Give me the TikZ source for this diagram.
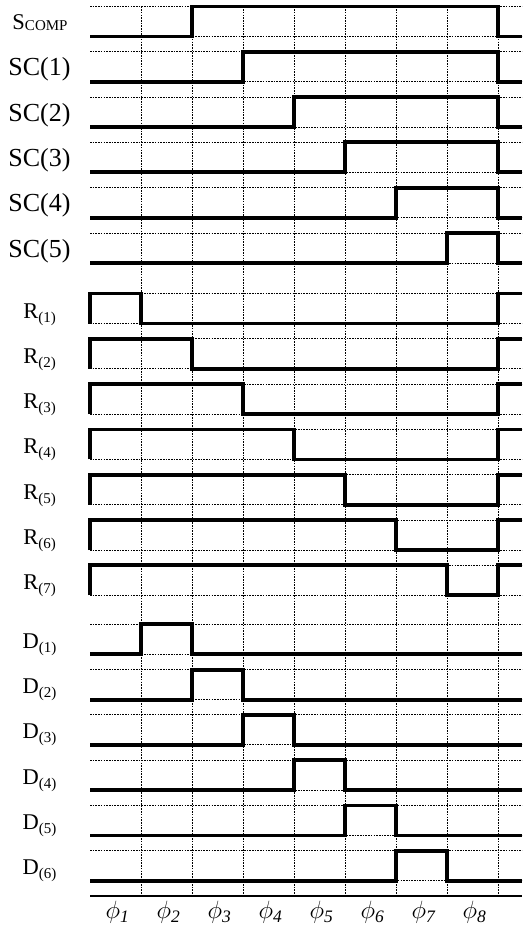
\RequirePackage{fix-cm}
\documentclass[tikz,border=0pt]{standalone}
\usepackage{fontspec}
\setmainfont{Liberation Serif}
\newcommand{\mysub}[3]{#1\raisebox{-#3}{\fontsize{15}{15}\selectfont #2}}
\begin{document}
\begin{tikzpicture}[x=1pt,y=-1pt,
  gridline/.style={line width=0.9pt, dash pattern=on 1.6pt off 1.1pt},
  sig/.style={line width=3.8pt, line cap=butt, line join=miter},
  smalllab/.style={anchor=base, inner sep=0pt, font=\fontsize{22.5}{22.5}\selectfont},
  biglab/.style={anchor=base, inner sep=0pt, font=\fontsize{26}{26}\selectfont},
  philab/.style={anchor=base, inner sep=0pt, font=\fontsize{25}{25}\selectfont}]
\useasboundingbox (0,0) rectangle (522,925);
% horizontal dotted guides
\foreach \i in {0,...,5}{
  \pgfmathsetmacro{\h}{6.5+45.3*\i}
  \draw[gridline] (90,\h) -- (522,\h);
  \draw[gridline] (90,\h+30) -- (522,\h+30);
}
\foreach \i in {0,...,6}{
  \pgfmathsetmacro{\h}{293.5+45.3*\i}
  \draw[gridline] (90,\h) -- (522,\h);
  \draw[gridline] (90,\h+30) -- (522,\h+30);
}
\foreach \i in {0,...,5}{
  \pgfmathsetmacro{\h}{624.3+45.3*\i}
  \draw[gridline] (90,\h) -- (522,\h);
  \draw[gridline] (90,\h+30) -- (522,\h+30);
}
% vertical dotted guides
\foreach \x in {141,192,243,294,345,396,447,498}
  \draw[gridline] (\x,6.5) -- (\x,896);
% axis
\draw[line width=1.4pt] (90,896) -- (522,896);
% group 1: S_COMP and SC(1..5)
\foreach \i in {0,...,5}{
  \pgfmathsetmacro{\h}{6.5+45.3*\i}
  \pgfmathsetmacro{\t}{192+51*\i}
  \draw[sig] (90,\h+30) -- (\t,\h+30) -- (\t,\h) -- (498,\h) -- (498,\h+30) -- (522,\h+30);
}
% group 2: R(1..7)
\foreach \k in {1,...,7}{
  \pgfmathsetmacro{\h}{293.5+45.3*(\k-1)}
  \pgfmathsetmacro{\f}{90+51*\k}
  \draw[sig] (90,\h+30) -- (90,\h) -- (\f,\h) -- (\f,\h+30) -- (498,\h+30) -- (498,\h) -- (522,\h);
  \node[smalllab] (r\k) at (39.5,\h+24.5) {\mysub{R}{(\k)}{4pt}};
}
% group 3: D(1..6)
\foreach \k in {1,...,6}{
  \pgfmathsetmacro{\h}{624.3+45.3*(\k-1)}
  \pgfmathsetmacro{\a}{90+51*\k}
  \draw[sig] (90,\h+30) -- (\a,\h+30) -- (\a,\h) -- (\a+51,\h) -- (\a+51,\h+30) -- (522,\h+30);
  \node[smalllab] (d\k) at (39.5,\h+24) {\mysub{D}{(\k)}{4pt}};
}
% labels group 1
\node[smalllab] (scomp) at (40,29.5) {\mysub{S}{COMP}{1pt}};
\foreach \i in {1,...,5}{
  \pgfmathsetmacro{\h}{6.5+45.3*\i}
  \node[biglab] (sc\i) at (39.5,\h+24) {SC(\i)};
}
% phase labels
\foreach \j in {1,...,8}{
  \pgfmathsetmacro{\c}{117.5+51*(\j-1)}
  \node[philab] (phi\j) at (\c,918.5) {$\phi_{\mathit{\j}}$};
}
\end{tikzpicture}
\end{document}
